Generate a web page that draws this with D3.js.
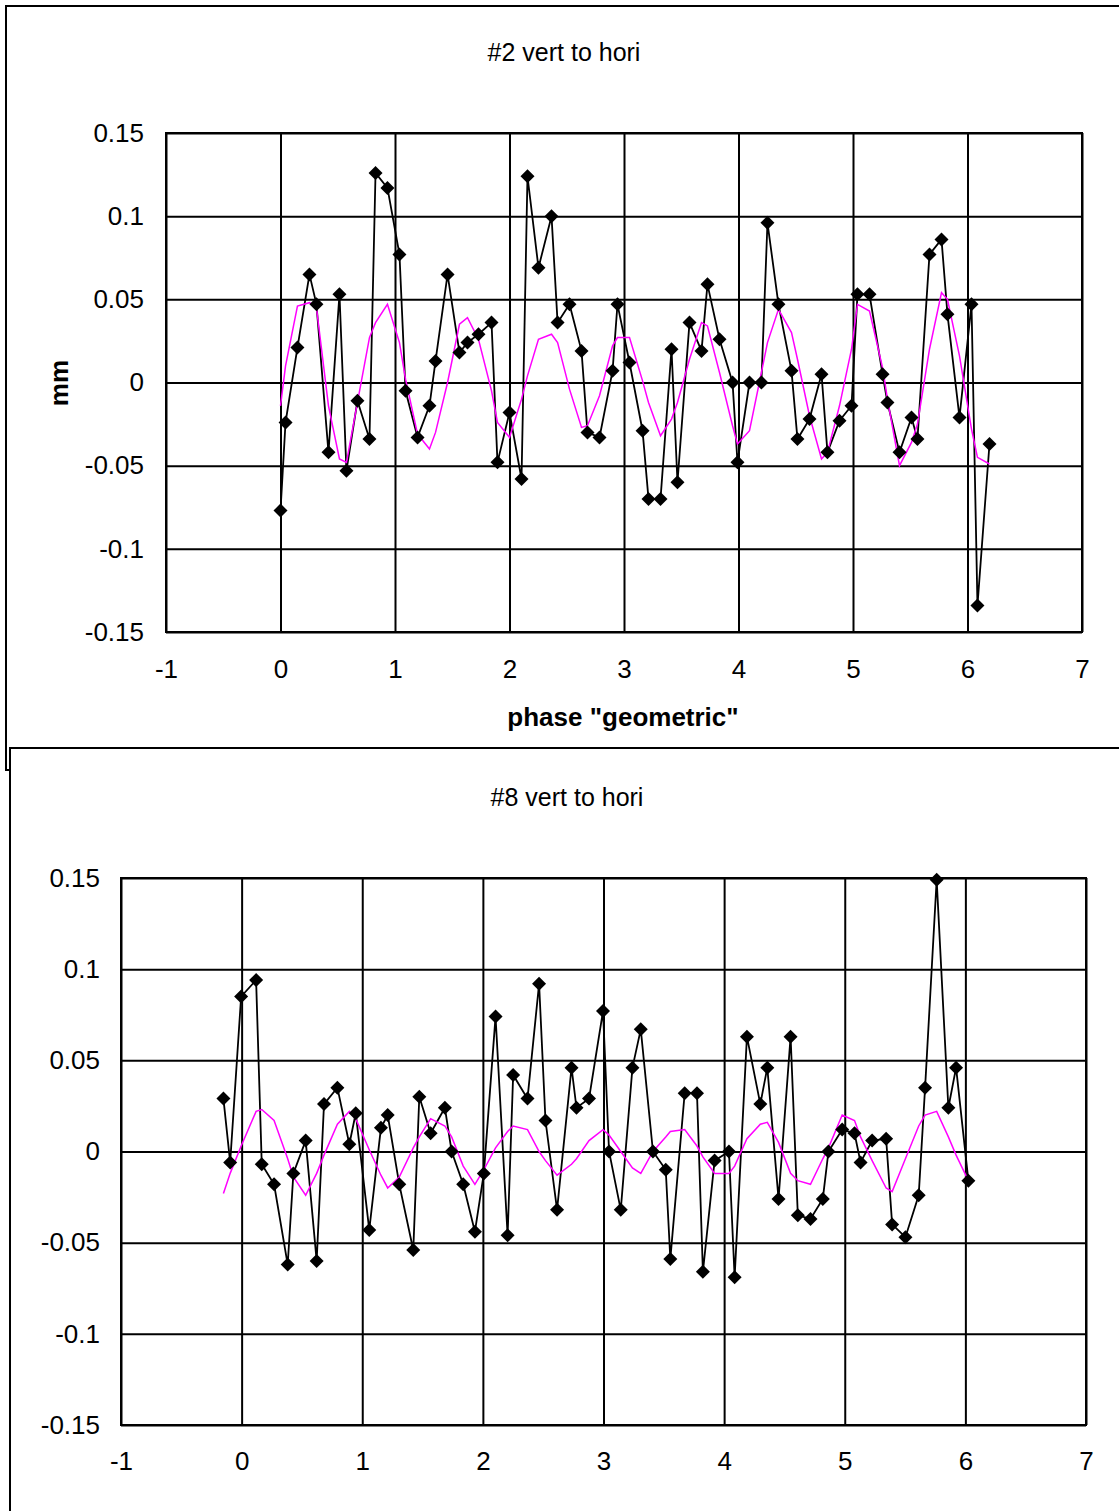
<!DOCTYPE html>
<html>
<head>
<meta charset="utf-8">
<script src="https://cdnjs.cloudflare.com/ajax/libs/d3/7.8.5/d3.min.js"></script>
<style>
  html, body { margin: 0; padding: 0; background: #fff; }
  svg { display: block; }
  text { font-family: "Liberation Sans", Arial, sans-serif; fill: #000; }
</style>
</head>
<body>
<script>
// Axis ticks shared by both panels
const xTicks = [-1, 0, 1, 2, 3, 4, 5, 6, 7];
const xTickLabels = ["-1", "0", "1", "2", "3", "4", "5", "6", "7"];
const yTicks = [-0.15, -0.1, -0.05, 0, 0.05, 0.1, 0.15];
const yTickLabels = ["-0.15", "-0.1", "-0.05", "0", "0.05", "0.1", "0.15"];

// Panel #2: measured deviation (mm) against geometric phase, plus fitted curve
const topX = [0.000, 0.044, 0.148, 0.253, 0.314, 0.419, 0.515, 0.576, 0.672, 0.777,
  0.830, 0.934, 1.039, 1.092, 1.197, 1.301, 1.354, 1.459, 1.563, 1.633,
  1.729, 1.843, 1.895, 2.000, 2.105, 2.157, 2.253, 2.367, 2.420, 2.524,
  2.629, 2.681, 2.786, 2.900, 2.943, 3.048, 3.162, 3.214, 3.319, 3.415,
  3.467, 3.572, 3.677, 3.729, 3.834, 3.948, 3.991, 4.096, 4.200, 4.253,
  4.349, 4.463, 4.515, 4.620, 4.725, 4.777, 4.882, 4.987, 5.039, 5.144,
  5.258, 5.301, 5.406, 5.511, 5.563, 5.668, 5.773, 5.825, 5.930, 6.035,
  6.087, 6.192];
const topMeasured = [-0.077, -0.024, 0.021, 0.065, 0.047, -0.042, 0.053, -0.053, -0.011, -0.034,
  0.126, 0.117, 0.077, -0.005, -0.033, -0.014, 0.013, 0.065, 0.018, 0.024,
  0.029, 0.036, -0.048, -0.018, -0.058, 0.124, 0.069, 0.100, 0.036, 0.047,
  0.019, -0.030, -0.033, 0.007, 0.047, 0.012, -0.029, -0.070, -0.070, 0.020,
  -0.060, 0.036, 0.019, 0.059, 0.026, 0.000, -0.048, 0.000, 0.000, 0.096,
  0.047, 0.007, -0.034, -0.022, 0.005, -0.042, -0.023, -0.014, 0.053, 0.053,
  0.005, -0.012, -0.042, -0.021, -0.034, 0.077, 0.086, 0.041, -0.021, 0.047,
  -0.134, -0.037];
const topFit = [-0.014, 0.010, 0.046, 0.048, 0.045, -0.014, -0.046, -0.048, -0.012, 0.027,
  0.036, 0.047, 0.024, 0.002, -0.031, -0.040, -0.030, 0.000, 0.035, 0.039,
  0.026, -0.005, -0.024, -0.033, -0.010, 0.004, 0.026, 0.029, 0.024, -0.004,
  -0.027, -0.026, -0.008, 0.022, 0.027, 0.027, 0.001, -0.012, -0.032, -0.022,
  -0.012, 0.014, 0.036, 0.034, 0.006, -0.026, -0.037, -0.029, 0.006, 0.024,
  0.044, 0.030, 0.014, -0.020, -0.046, -0.042, -0.014, 0.020, 0.047, 0.043,
  0.009, -0.010, -0.050, -0.036, -0.025, 0.020, 0.054, 0.050, 0.016, -0.028,
  -0.045, -0.049];

// Panel #8
const botX = [-0.151, -0.095, -0.004, 0.120, 0.167, 0.269, 0.382, 0.429, 0.531, 0.622,
  0.683, 0.794, 0.893, 0.946, 1.058, 1.155, 1.211, 1.307, 1.423, 1.473,
  1.567, 1.685, 1.741, 1.837, 1.934, 2.008, 2.105, 2.205, 2.251, 2.370,
  2.466, 2.519, 2.615, 2.735, 2.776, 2.880, 2.996, 3.046, 3.143, 3.240,
  3.309, 3.410, 3.516, 3.554, 3.673, 3.775, 3.824, 3.921, 4.040, 4.087,
  4.189, 4.300, 4.358, 4.451, 4.551, 4.611, 4.716, 4.818, 4.865, 4.979,
  5.081, 5.131, 5.227, 5.343, 5.393, 5.503, 5.613, 5.666, 5.762, 5.859,
  5.923, 6.025];
const botMeasured = [0.029, -0.006, 0.085, 0.094, -0.007, -0.018, -0.062, -0.012, 0.006, -0.060,
  0.026, 0.035, 0.004, 0.021, -0.043, 0.013, 0.020, -0.018, -0.054, 0.030,
  0.010, 0.024, 0.000, -0.018, -0.044, -0.012, 0.074, -0.046, 0.042, 0.029,
  0.092, 0.017, -0.032, 0.046, 0.024, 0.029, 0.077, 0.000, -0.032, 0.046,
  0.067, 0.000, -0.010, -0.059, 0.032, 0.032, -0.066, -0.005, 0.000, -0.069,
  0.063, 0.026, 0.046, -0.026, 0.063, -0.035, -0.037, -0.026, 0.000, 0.012,
  0.010, -0.006, 0.006, 0.007, -0.040, -0.047, -0.024, 0.035, 0.149, 0.024,
  0.046, -0.016];
const botFit = [-0.023, -0.012, 0.003, 0.022, 0.023, 0.017, -0.004, -0.014, -0.024, -0.012,
  -0.002, 0.015, 0.022, 0.018, 0.001, -0.013, -0.020, -0.014, 0.002, 0.008,
  0.018, 0.014, 0.008, -0.008, -0.018, -0.010, 0.002, 0.011, 0.014, 0.012,
  0.000, -0.005, -0.013, -0.007, -0.004, 0.006, 0.012, 0.009, 0.000, -0.009,
  -0.012, 0.000, 0.008, 0.011, 0.012, 0.003, -0.003, -0.012, -0.012, -0.008,
  0.007, 0.015, 0.016, 0.005, -0.012, -0.016, -0.018, -0.004, 0.002, 0.020,
  0.017, 0.008, -0.005, -0.020, -0.022, -0.004, 0.014, 0.020, 0.022, 0.008,
  -0.002, -0.016];

const W = 1119, H = 1511;
const svg = d3.select("body").append("svg")
  .attr("width", W).attr("height", H)
  .attr("viewBox", `0 0 ${W} ${H}`);
svg.append("rect").attr("width", W).attr("height", H).attr("fill", "#fff");

const FONT = 26;

function diamond(r) {
  return `M0,${-r}L${r},0L0,${r}L${-r},0Z`;
}

function drawPanel(o) {
  const g = svg.append("g");

  // chart area border (white box, later panels sit on top)
  g.append("rect")
    .attr("x", o.frame[0]).attr("y", o.frame[1])
    .attr("width", o.frame[2]).attr("height", o.frame[3])
    .attr("fill", "#fff").attr("stroke", "#000").attr("stroke-width", 2);

  const x = d3.scaleLinear().domain([-1, 7]).range([o.left, o.right]);
  const y = d3.scaleLinear().domain([-0.15, 0.15]).range([o.bottom, o.top]);
  const pw = o.right - o.left, ph = o.bottom - o.top;

  // gridlines
  g.append("g")
    .attr("transform", `translate(0,${o.bottom})`)
    .call(d3.axisBottom(x).tickValues(xTicks).tickSize(-ph).tickFormat(""))
    .call(a => a.select(".domain").remove())
    .call(a => a.selectAll("line").attr("stroke", "#000").attr("stroke-width", 2));
  g.append("g")
    .attr("transform", `translate(${o.left},0)`)
    .call(d3.axisLeft(y).tickValues(yTicks).tickSize(-pw).tickFormat(""))
    .call(a => a.select(".domain").remove())
    .call(a => a.selectAll("line").attr("stroke", "#000").attr("stroke-width", 2));

  // plot border
  g.append("rect")
    .attr("x", o.left).attr("y", o.top).attr("width", pw).attr("height", ph)
    .attr("fill", "none").attr("stroke", "#000").attr("stroke-width", 2);

  // tick labels
  g.append("g")
    .attr("transform", `translate(0,${o.bottom})`)
    .call(d3.axisBottom(x).tickValues(xTicks).tickSize(0).tickPadding(o.xPad)
      .tickFormat((d, i) => xTickLabels[i]))
    .call(a => a.select(".domain").remove())
    .call(a => a.selectAll("text").attr("font-size", FONT)
      .attr("font-family", "Liberation Sans, Arial, sans-serif").attr("fill", "#000"));
  g.append("g")
    .attr("transform", `translate(${o.left},0)`)
    .call(d3.axisLeft(y).tickValues(yTicks).tickSize(0).tickPadding(o.yPad)
      .tickFormat((d, i) => yTickLabels[i]))
    .call(a => a.select(".domain").remove())
    .call(a => a.selectAll("text").attr("font-size", FONT)
      .attr("font-family", "Liberation Sans, Arial, sans-serif").attr("fill", "#000"));

  // title
  g.append("text")
    .attr("x", o.titleX).attr("y", o.titleY)
    .attr("text-anchor", "middle").attr("font-size", 25)
    .text(o.title);

  if (o.xTitle) {
    g.append("text")
      .attr("x", o.xTitle[0]).attr("y", o.xTitle[1])
      .attr("text-anchor", "middle").attr("font-size", FONT).attr("font-weight", "bold")
      .text(o.xTitle[2]);
  }
  if (o.yTitle) {
    g.append("text")
      .attr("transform", `translate(${o.yTitle[0]},${o.yTitle[1]}) rotate(-90)`)
      .attr("text-anchor", "middle").attr("font-size", FONT).attr("font-weight", "bold")
      .text(o.yTitle[2]);
  }

  const pts = o.xs.map((v, i) => ({ x: v, m: o.measured[i], f: o.fit[i] }));

  // measured series
  g.append("path")
    .datum(pts)
    .attr("fill", "none").attr("stroke", "#000").attr("stroke-width", 1.8)
    .attr("d", d3.line().x(d => x(d.x)).y(d => y(d.m)));

  // fitted curve
  g.append("path")
    .datum(pts)
    .attr("fill", "none").attr("stroke", "#ff00ff").attr("stroke-width", 1.5)
    .attr("d", d3.line().x(d => x(d.x)).y(d => y(d.f)));

  // markers
  g.selectAll("path.mk")
    .data(pts)
    .join("path")
    .attr("class", "mk")
    .attr("transform", d => `translate(${x(d.x)},${y(d.m)})`)
    .attr("d", diamond(7))
    .attr("fill", "#000");
}

drawPanel({
  frame: [6, 6, 1130, 764],
  left: 166, right: 1082, top: 133, bottom: 632,
  xPad: 28, yPad: 22,
  title: "#2 vert to hori", titleX: 564, titleY: 61,
  xTitle: [623, 726, "phase \"geometric\""],
  yTitle: [68, 383, "mm"],
  xs: topX, measured: topMeasured, fit: topFit
});

drawPanel({
  frame: [10, 748, 1130, 800],
  left: 121, right: 1086, top: 878, bottom: 1425,
  xPad: 27, yPad: 21,
  title: "#8 vert to hori", titleX: 567, titleY: 806,
  xs: botX, measured: botMeasured, fit: botFit
});
</script>
</body>
</html>
